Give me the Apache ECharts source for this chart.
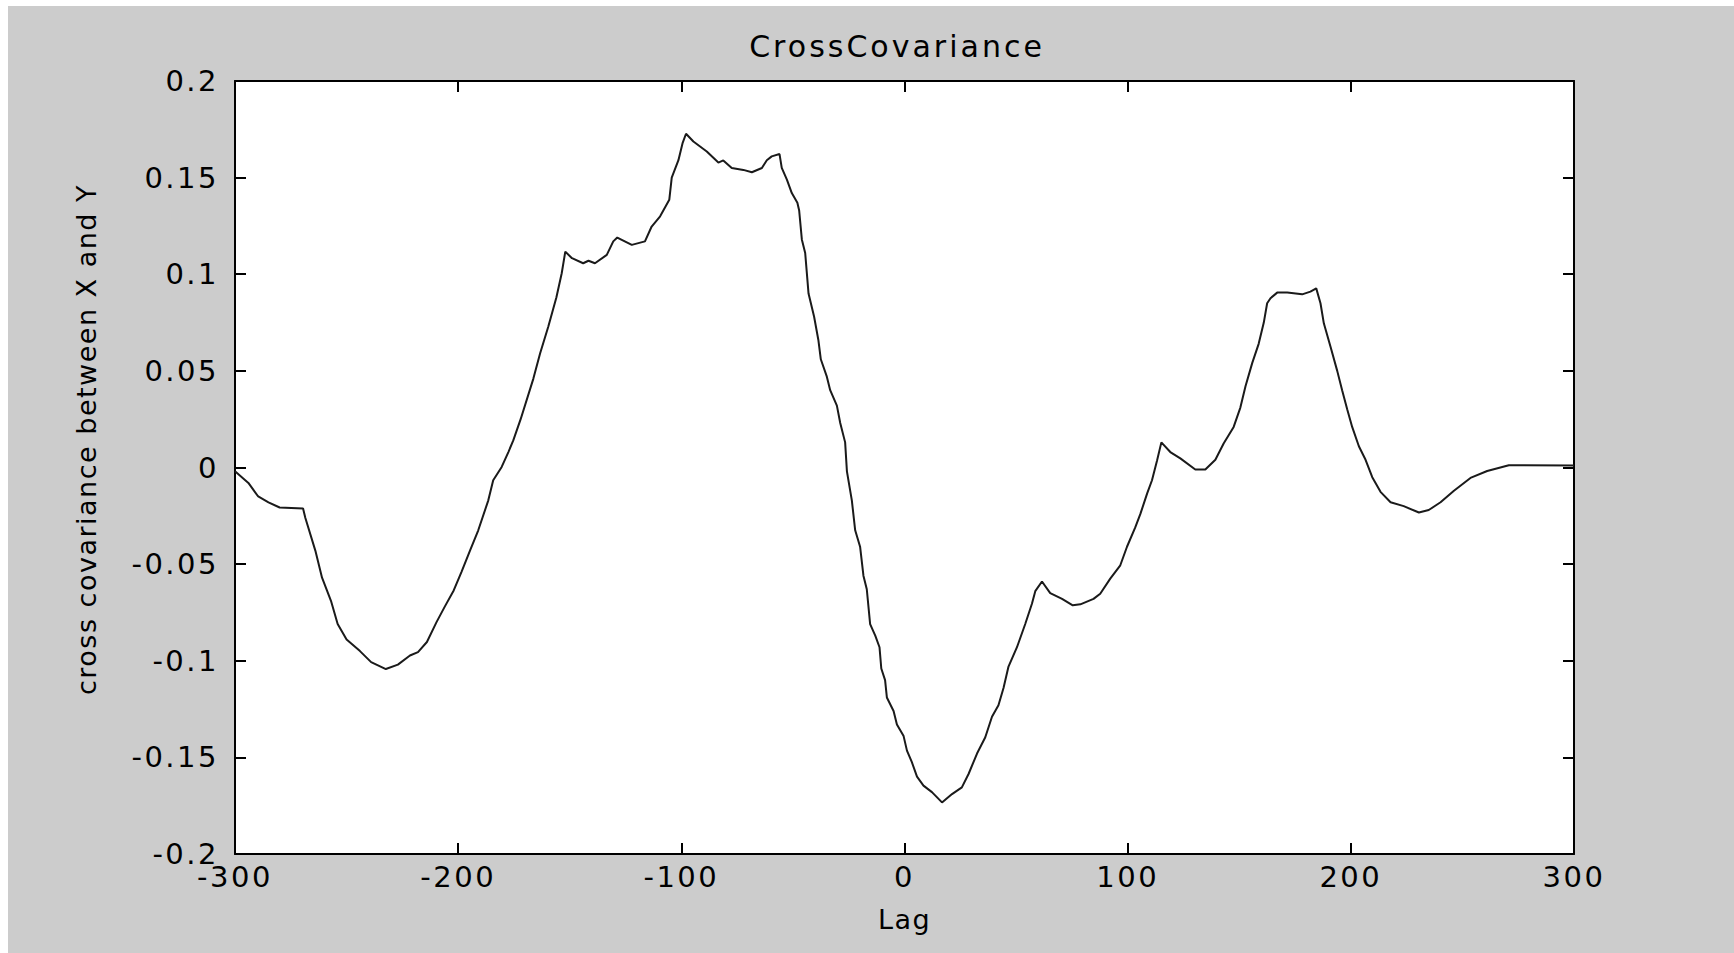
<!DOCTYPE html>
<html>
<head>
<meta charset="utf-8">
<script src="https://cdn.jsdelivr.net/npm/echarts@6/dist/echarts.min.js"></script>
<style>
  html, body { margin: 0; padding: 0; background: #ffffff; width: 1734px; height: 953px; overflow: hidden; }
  #chart { position: absolute; left: 8px; top: 6px; width: 1726px; height: 947px; }
  #chart text { letter-spacing: 2.5px; }
  #chart text[style*="30px"] { letter-spacing: 3px; }
  #chart text[style*="27px"] { letter-spacing: 1.5px; }
</style>
</head>
<body>
<div id="chart"></div>
<script>
const titleText = 'CrossCovariance';
const xAxisName = 'Lag';
const yAxisName = 'cross covariance between X and Y';

const xTicks = [-300, -200, -100, 0, 100, 200, 300];
const yTicks = [-0.2, -0.15, -0.1, -0.05, 0, 0.05, 0.1, 0.15, 0.2];

const lags = [
  -300, -294, -289.6, -285, -280, -269.5, -268.5, -264, -261, -257,
  -254, -250, -244, -239, -232.4, -227, -221.6, -218, -214, -209.7,
  -206, -202, -198.5, -194.7, -191, -186.5, -184.3, -180.5, -177.5, -175.3,
  -172, -166.3, -163.3, -159.6, -156, -153.6, -152, -149, -144, -141.6,
  -138.7, -133.4, -130.5, -128.7, -122.2, -116.3, -113.3, -109.5, -105.4, -104.3,
  -101.3, -99.4, -97.9, -94.6, -88.6, -83.4, -81.2, -77.4, -72.2, -68.4,
  -63.9, -61.7, -59.5, -56, -55, -52.7, -50.5, -48, -47.2, -46,
  -44.5, -43, -40.5, -38.6, -37.5, -34.8, -33.3, -30.3, -28.8, -26.6,
  -25.8, -23.6, -22.1, -19.9, -18.4, -16.9, -15.4, -13.1, -11.2, -10.4,
  -8.7, -7.9, -4.9, -3.4, -0.4, 1.1, 3.3, 5.6, 8.5, 12.3,
  16.8, 21.3, 25.7, 28.7, 32.5, 36.2, 39.2, 42.1, 44.4, 46.6,
  50.4, 54.1, 57.1, 58.6, 61.6, 65.3, 70.6, 75.4, 78.8, 84.7,
  87.7, 92.2, 96.7, 99.7, 103.4, 105.7, 108.7, 110.9, 113.2, 115.1,
  119.1, 123.6, 130.3, 134.8, 139.3, 143, 147.5, 150.5, 152.8, 155.8,
  158.7, 161, 162.5, 164, 167, 171.5, 178.2, 181.9, 184.5, 186.4,
  187.9, 190.9, 193.9, 196.1, 198.4, 200.6, 203.6, 206.6, 209.6, 213.3,
  217.8, 223.7, 230.5, 234.9, 240.2, 246.2, 253.6, 261.1, 270.8, 300
];

const covariance = [
  -0.002, -0.008, -0.015, -0.018, -0.0207, -0.0212, -0.026, -0.043, -0.057, -0.069,
  -0.081, -0.089, -0.095, -0.1007, -0.1043, -0.102, -0.0973, -0.0955, -0.0903, -0.080,
  -0.072, -0.0636, -0.054, -0.043, -0.0325, -0.017, -0.0066, 0.0003, 0.008, 0.014,
  0.025, 0.046, 0.059, 0.073, 0.088, 0.1005, 0.1117, 0.1083, 0.1057, 0.107,
  0.1057, 0.110, 0.117, 0.119, 0.1152, 0.117, 0.1247, 0.130, 0.1385, 0.150,
  0.159, 0.168, 0.1727, 0.1687, 0.1635, 0.1578, 0.1589, 0.155, 0.154, 0.1528,
  0.155, 0.159, 0.161, 0.1622, 0.155, 0.149, 0.142, 0.137, 0.133, 0.118,
  0.111, 0.090, 0.078, 0.066, 0.056, 0.047, 0.040, 0.032, 0.023, 0.013,
  -0.002, -0.017, -0.0325, -0.041, -0.056, -0.063, -0.081, -0.087, -0.093, -0.104,
  -0.110, -0.119, -0.126, -0.133, -0.139, -0.1465, -0.1525, -0.160, -0.1646, -0.168,
  -0.1733, -0.169, -0.1655, -0.1586, -0.148, -0.1396, -0.129, -0.123, -0.114, -0.103,
  -0.093, -0.081, -0.0705, -0.064, -0.059, -0.065, -0.068, -0.0713, -0.0708, -0.068,
  -0.0653, -0.0575, -0.0506, -0.041, -0.031, -0.024, -0.0135, -0.0066, 0.0038, 0.013,
  0.008, 0.0047, -0.001, -0.001, 0.004, 0.0124, 0.021, 0.031, 0.042, 0.054,
  0.064, 0.075, 0.085, 0.0876, 0.0905, 0.0905, 0.0896, 0.091, 0.0927, 0.085,
  0.0746, 0.0625, 0.050, 0.040, 0.030, 0.021, 0.011, 0.004, -0.005, -0.0126,
  -0.018, -0.020, -0.0233, -0.022, -0.018, -0.012, -0.0054, -0.0018, 0.0012, 0.001
];

const seriesData = lags.map((l, i) => [l, covariance[i]]);

const FONT = 'DejaVu Sans';
const axisCommon = {
  axisLine: { show: true, onZero: false, lineStyle: { color: '#000', width: 2 } },
  axisTick: { show: true, inside: true, length: 11, lineStyle: { color: '#000', width: 2 } },
  splitLine: { show: false }
};

const chart = echarts.init(document.getElementById('chart'), null, { renderer: 'svg' });
chart.setOption({
  animation: false,
  backgroundColor: '#cccccc',
  title: {
    text: titleText,
    left: 884,
    top: 20,
    textAlign: 'center',
    textStyle: { fontFamily: FONT, fontSize: 30, fontWeight: 'normal', color: '#000' }
  },
  grid: {
    left: 227, right: 160, top: 75, bottom: 99,
    show: true, backgroundColor: '#ffffff', borderWidth: 0
  },
  xAxis: [
    Object.assign({
      type: 'value', position: 'bottom',
      min: xTicks[0], max: xTicks[xTicks.length - 1], interval: 100,
      name: xAxisName, nameLocation: 'middle', nameGap: 52,
      nameTextStyle: { fontFamily: FONT, fontSize: 27, color: '#000' },
      axisLabel: { fontFamily: FONT, fontSize: 29, lineHeight: 20, color: '#000', margin: 13 }
    }, axisCommon),
    Object.assign({
      type: 'value', position: 'top',
      min: xTicks[0], max: xTicks[xTicks.length - 1], interval: 100,
      axisLabel: { show: false }
    }, axisCommon)
  ],
  yAxis: [
    Object.assign({
      type: 'value', position: 'left',
      min: yTicks[0], max: yTicks[yTicks.length - 1], interval: 0.05,
      name: yAxisName, nameLocation: 'middle', nameGap: 135, nameRotate: 90,
      nameTextStyle: { fontFamily: FONT, fontSize: 27, color: '#000', padding: [0, 0, 0, 56] },
      axisLabel: { fontFamily: FONT, fontSize: 29, lineHeight: 20, color: '#000', margin: 16 }
    }, axisCommon),
    Object.assign({
      type: 'value', position: 'right',
      min: yTicks[0], max: yTicks[yTicks.length - 1], interval: 0.05,
      axisLabel: { show: false }
    }, axisCommon)
  ],
  series: [{
    type: 'line',
    xAxisIndex: 0, yAxisIndex: 0,
    data: seriesData,
    showSymbol: false,
    symbol: 'none',
    lineStyle: { color: '#1a1a1a', width: 2 },
    z: 3
  }]
});
</script>
</body>
</html>
